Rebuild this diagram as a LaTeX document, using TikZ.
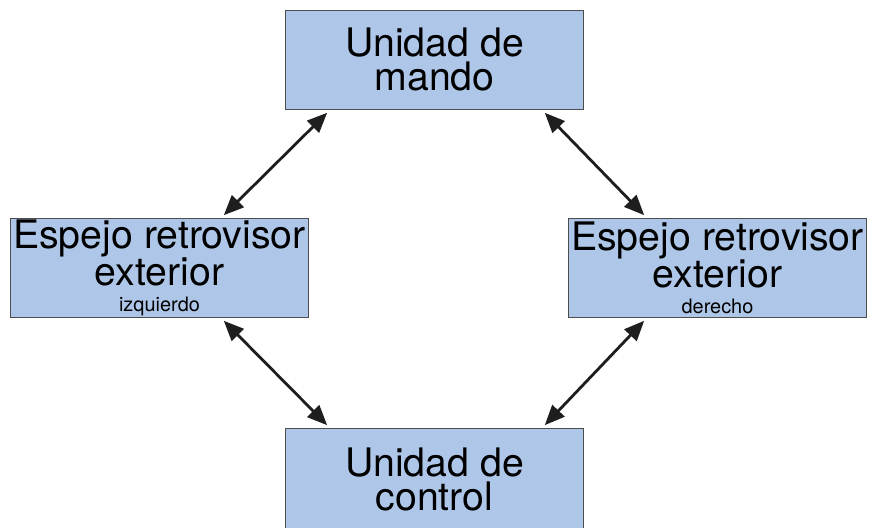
\documentclass[tikz,border=0pt]{standalone}
\usepackage{fontspec}
\setmainfont{TeX Gyre Heros}
\usetikzlibrary{arrows.meta,calc}
\definecolor{BoxBlue}{HTML}{AEC6E8}
\definecolor{BoxEdge}{HTML}{4D4D4D}
\definecolor{ArrowInk}{HTML}{1E1E1E}

\begin{document}
\begin{tikzpicture}[x=0.03cm, y=-0.03cm,
    unit/.style={draw=BoxEdge, fill=BoxBlue, line width=0.8pt, anchor=north west, minimum width=8.94cm, minimum height=2.97cm, inner sep=0pt, align=center, font=\fontsize{33.5}{29}\selectfont},
    arr/.style={{Triangle[length=0.6cm,width=0.5cm]}-{Triangle[length=0.6cm,width=0.5cm]}, draw=ArrowInk, line width=2.4pt, shorten <=1pt, shorten >=1pt}
  ]
    \useasboundingbox (0,0) rectangle (874,527);

    \node[unit] (mando) at (285,10) {Unidad de\\mando};
    \node[unit] (izq) at (10,218) {Espejo retrovisor\\exterior\\[-7pt]{\fontsize{17}{17}\selectfont izquierdo}};
    \node[unit] (der) at (568,218) {Espejo retrovisor\\exterior\\[-7pt]{\fontsize{17}{17}\selectfont derecho}};
    \node[unit, minimum height=3.06cm] (control) at (285,428) {Unidad de\\control};

    \draw[arr] ($(mando.south west)+(43,2)$) -- ($(izq.north east)+(-86,-2)$);
    \draw[arr] ($(mando.south east)+(-40,2)$) -- ($(der.north west)+(77,-2)$);
    \draw[arr] ($(izq.south east)+(-86,2)$) -- ($(control.north west)+(43,-2)$);
    \draw[arr] ($(der.south west)+(77,2)$) -- ($(control.north east)+(-40,-2)$);
  \end{tikzpicture}
\end{document}
